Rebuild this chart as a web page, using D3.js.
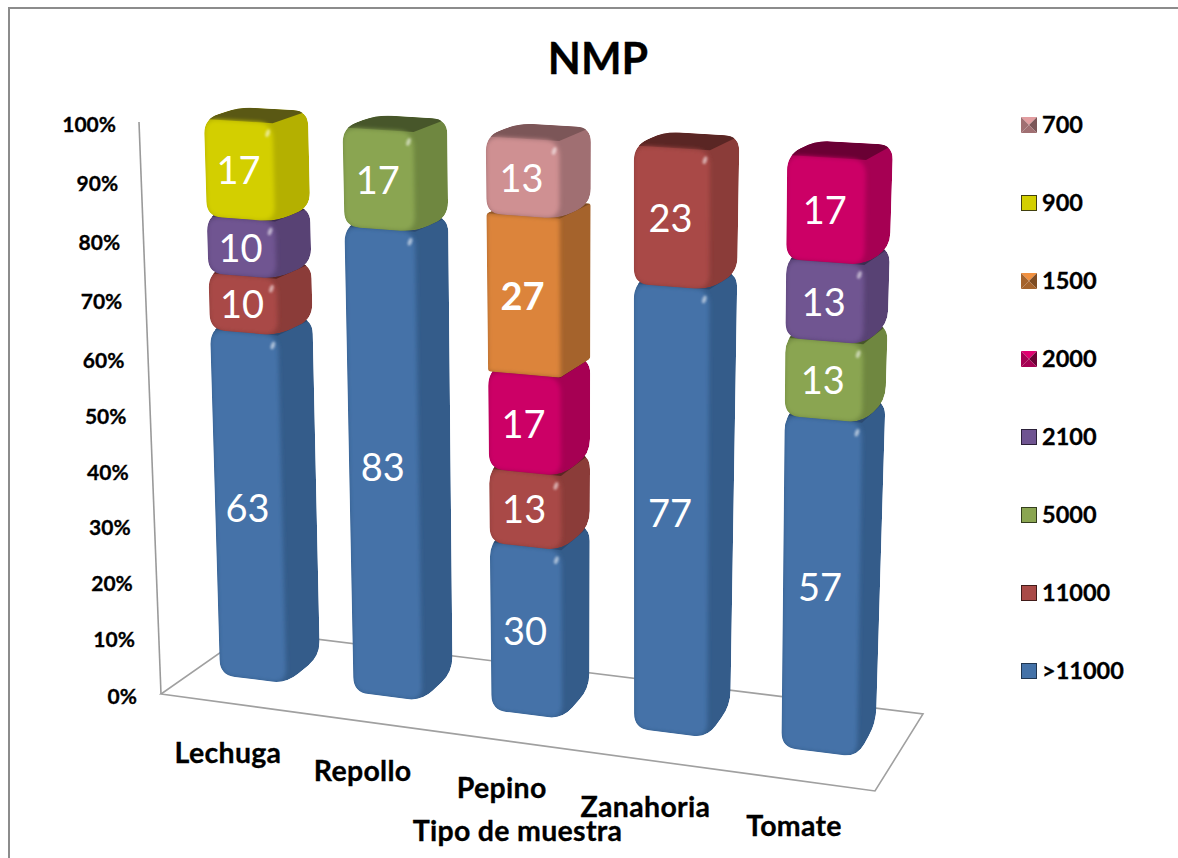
<!DOCTYPE html>
<html>
<head>
<meta charset="utf-8">
<script src="https://cdnjs.cloudflare.com/ajax/libs/d3/7.8.5/d3.min.js"></script>
<style>
  html, body { margin: 0; padding: 0; background: #fff; }
  svg { display: block; }
  text { font-family: Lato, "Open Sans", sans-serif; }
</style>
</head>
<body>
<div id="chart"></div>
<script>
// Share of samples per MPN (NMP) level, per sample type
const categories = ["Lechuga", "Repollo", "Pepino", "Zanahoria", "Tomate"];
const seriesNames = [">11000", "11000", "5000", "2100", "2000", "1500", "900", "700"];
const gt11000 = [63, 83, 30, 77, 57];
const n11000  = [10, 0, 13, 23, 0];
const n5000   = [0, 17, 0, 0, 13];
const n2100   = [10, 0, 0, 0, 13];
const n2000   = [0, 0, 17, 0, 17];
const n1500   = [0, 0, 27, 0, 0];
const n900    = [17, 0, 0, 0, 0];
const n700    = [0, 0, 13, 0, 0];
const seriesValues = [gt11000, n11000, n5000, n2100, n2000, n1500, n900, n700];
const percentTicks = [0, 10, 20, 30, 40, 50, 60, 70, 80, 90, 100];
const chartTitle = "NMP";
const axisTitle = "Tipo de muestra";

// face colours: front, side, top
const palette = {
  ">11000": ["#4472a8", "#345c8a", "#2c4a70"],
  "11000":  ["#a94a47", "#8b3c39", "#5a2624"],
  "5000":   ["#8aa551", "#6f8740", "#47562a"],
  "2100":   ["#6f5491", "#584274", "#3c2d50"],
  "2000":   ["#cc0066", "#a60053", "#6a0034"],
  "1500":   ["#dc843a", "#a5632c", "#7d4b22"],
  "900":    ["#d3cf00", "#b4b000", "#5a5814"],
  "700":    ["#cf9092", "#a06f72", "#7c5658"]
};
const glossless = new Set(["1500", "2000"]);

const width = 1178, height = 858;
const svg = d3.select("#chart").append("svg").attr("width", width).attr("height", height);
const defs = svg.append("defs");
defs.append("filter").attr("id", "soft").attr("x", "-10%").attr("y", "-10%")
  .attr("width", "120%").attr("height", "120%")
  .append("feGaussianBlur").attr("stdDeviation", 2.2);
defs.append("filter").attr("id", "glow").attr("x", "-100%").attr("y", "-100%")
  .attr("width", "300%").attr("height", "300%")
  .append("feGaussianBlur").attr("stdDeviation", 0.8);

// Projective map from the unit square onto a screen quad (p00, p10, p11, p01)
function quadMap(p00, p10, p11, p01) {
  const dx1 = p10[0] - p11[0], dx2 = p01[0] - p11[0], sx = p00[0] - p10[0] + p11[0] - p01[0];
  const dy1 = p10[1] - p11[1], dy2 = p01[1] - p11[1], sy = p00[1] - p10[1] + p11[1] - p01[1];
  const det = dx1 * dy2 - dx2 * dy1;
  const g = (sx * dy2 - dx2 * sy) / det, h = (dx1 * sy - sx * dy1) / det;
  const a = p10[0] - p00[0] + g * p10[0], b = p01[0] - p00[0] + h * p01[0], c = p00[0];
  const d = p10[1] - p00[1] + g * p10[1], e = p01[1] - p00[1] + h * p01[1], f = p00[1];
  return (u, v) => {
    const w = g * u + h * v + 1;
    return [(a * u + b * v + c) / w, (d * u + e * v + f) / w];
  };
}

// Front and rear planes of the bar volume: u runs along the categories, v up the value axis
const frontPlane = quadMap([220, 675], [857, 757], [866, 160], [204, 119]);
const rearPlane  = quadMap([255, 648], [876, 723], [893, 145], [240, 107]);

const xBand = d3.scaleBand().domain(categories).range([0, 1]).paddingInner(0.5);
const vScale = d3.scaleLinear().domain([0, 100]).range([0, 1]);

// Floor and wall of the plot box
const floorCorners = [[161, 694], [875, 791], [923, 714], [251, 631]];
const wallEdge = [[161, 694], [139, 122]];

// Outer chart frame, open at the right and bottom page edges
svg.append("path").attr("d", `M9,${height}V8H${width}`)
  .attr("fill", "none").attr("stroke", "#8c8c8c").attr("stroke-width", 2);

svg.append("path").attr("d", "M" + floorCorners.join("L") + "Z")
  .attr("fill", "none").attr("stroke", "#a0a0a0").attr("stroke-width", 1.6);
svg.append("path").attr("d", "M" + wallEdge.join("L"))
  .attr("fill", "none").attr("stroke", "#9a9a9a").attr("stroke-width", 1.6);

// Polygon outline with corners rounded by radius r
function roundedPath(pts, r) {
  const n = pts.length;
  let out = "";
  pts.forEach((p, i) => {
    const prev = pts[(i + n - 1) % n], next = pts[(i + 1) % n];
    const lp = Math.hypot(prev[0] - p[0], prev[1] - p[1]);
    const ln = Math.hypot(next[0] - p[0], next[1] - p[1]);
    const rp = Math.min(r, lp / 2), rn = Math.min(r, ln / 2);
    const a = [p[0] + (prev[0] - p[0]) * rp / lp, p[1] + (prev[1] - p[1]) * rp / lp];
    const b = [p[0] + (next[0] - p[0]) * rn / ln, p[1] + (next[1] - p[1]) * rn / ln];
    out += (i ? "L" : "M") + a[0].toFixed(1) + "," + a[1].toFixed(1)
         + "Q" + p[0].toFixed(1) + "," + p[1].toFixed(1) + " " + b[0].toFixed(1) + "," + b[1].toFixed(1);
  });
  return out + "Z";
}

// Stacked percentages, one row per category
const rows = categories.map((c, i) => {
  const row = { category: c };
  seriesNames.forEach((s, k) => { row[s] = seriesValues[k][i]; });
  return row;
});
const stacked = d3.stack().keys(seriesNames)(rows);

const barsLayer = svg.append("g");
const labelsLayer = svg.append("g");
let clipCount = 0;

// Bold Calibri-like weight for the axis labels
function heavyLabel(sel, size) {
  return sel.attr("font-size", size).attr("font-weight", 700).attr("fill", "#000")
    .attr("stroke", "#000").attr("stroke-width", 0.3);
}

categories.forEach((cat, ci) => {
  const u0 = xBand(cat), u1 = u0 + xBand.bandwidth();
  stacked.forEach(layer => {
    const [lo, hi] = layer[ci];
    if (hi - lo <= 0) return;
    const name = layer.key;
    const [cFront, cSide, cTop] = palette[name];
    const v0 = vScale(lo), v1 = vScale(hi);
    const fTL = frontPlane(u0, v1), fTR = frontPlane(u1, v1), fBR = frontPlane(u1, v0), fBL = frontPlane(u0, v0);
    const bTL = rearPlane(u0, v1), bTR = rearPlane(u1, v1), bBR = rearPlane(u1, v0);
    const r = name === "1500" ? 2 : 15;

    const hull = roundedPath([fTL, bTL, bTR, bBR, fBR, fBL], r);
    const id = "block" + (clipCount++);
    defs.append("clipPath").attr("id", id).append("path").attr("d", hull);

    const g = barsLayer.append("g").attr("clip-path", `url(#${id})`);
    g.append("path").attr("d", hull).attr("fill", cSide);
    g.append("path").attr("d", "M" + [fTL, bTL, bTR, fTR].join("L") + "Z").attr("fill", cTop);
    g.append("path")
      .attr("d", roundedPath([fTL, fTR, fBR, fBL], r))
      .attr("fill", cFront)
      .attr("filter", "url(#soft)");

    if (!glossless.has(name)) {
      const spot = [fTR[0] - 5, fTR[1] + 10];
      g.append("ellipse")
        .attr("cx", spot[0]).attr("cy", spot[1]).attr("rx", 2).attr("ry", 4)
        .attr("transform", `rotate(20 ${spot[0]} ${spot[1]})`)
        .attr("fill", "#fff").attr("opacity", 0.55).attr("filter", "url(#glow)");
    }

    const mid = frontPlane((u0 + u1) / 2, (v0 + v1) / 2);
    labelsLayer.append("text")
      .attr("x", mid[0] - 1).attr("y", mid[1] + 14)
      .attr("text-anchor", "middle")
      .attr("font-size", 38)
      .attr("font-weight", name === "1500" ? 700 : 400)
      .attr("fill", "#fff")
      .text(hi - lo);
  });

  const foot = frontPlane((u0 + u1) / 2, 0);
  heavyLabel(svg.append("text"), 28.5)
    .attr("x", foot[0] - 25).attr("y", foot[1] + 84)
    .attr("text-anchor", "middle")
    .attr("letter-spacing", 0.3)
    .text(cat);
});

// Percent labels follow the slanted wall edge
const tickY = d3.scaleLinear().domain([0, 10, 60, 100]).range([697, 640, 361, 125]);
const tickX = d3.scaleLinear().domain([0, 100]).range([137, 116]);
heavyLabel(svg.append("g").selectAll("text").data(percentTicks).join("text"), 21)
  .attr("x", d => tickX(d)).attr("y", d => tickY(d) + 7)
  .attr("text-anchor", "end")
  .text(d => d + "%");

heavyLabel(svg.append("text"), 43)
  .attr("x", 598).attr("y", 74).attr("text-anchor", "middle")
  .text(chartTitle);

heavyLabel(svg.append("text"), 28.5)
  .attr("x", 517.5).attr("y", 841).attr("text-anchor", "middle")
  .attr("letter-spacing", 0.3)
  .text(axisTitle);

// Legend, top to bottom in reverse stacking order
const legendY = d3.scalePoint().domain(seriesNames.slice().reverse()).range([125, 671]);
const legend = svg.append("g").selectAll("g").data(seriesNames.slice().reverse()).join("g")
  .attr("transform", d => `translate(1021,${legendY(d) - 8})`);
const size = 16;
const pyramid = new Set(["700", "1500", "2000"]);
legend.each(function (d) {
  const g = d3.select(this);
  const [cFront, cSide, cTop] = palette[d];
  if (pyramid.has(d)) {
    const c = size / 2;
    const tri = [
      [[0, 0], [size, 0], [c, c], d3.color(cFront).brighter(0.25)],
      [[size, 0], [size, size], [c, c], cTop],
      [[size, size], [0, size], [c, c], cSide],
      [[0, size], [0, 0], [c, c], cSide]
    ];
    tri.forEach(t => g.append("path")
      .attr("d", "M" + t.slice(0, 3).join("L") + "Z")
      .attr("fill", t[3]));
  } else {
    g.append("rect").attr("x", 0.5).attr("y", 0.5).attr("width", size - 1).attr("height", size - 1)
      .attr("fill", cFront)
      .attr("stroke", d3.color(cTop).darker(0.9)).attr("stroke-width", 1);
  }
  heavyLabel(g.append("text"), 23.5).attr("x", 21).attr("y", 15.5).text(d);
});
</script>
</body>
</html>
